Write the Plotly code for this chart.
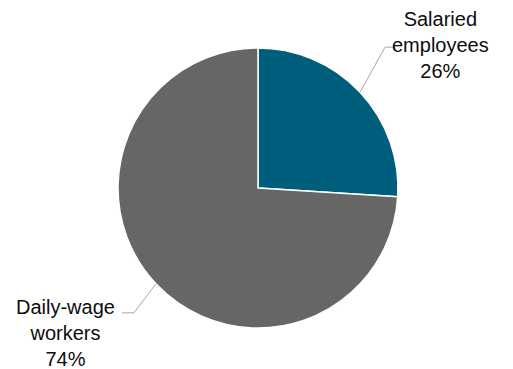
import math
import plotly.graph_objects as go

labels = ["Salaried employees", "Daily-wage workers"]
label_text = ["Salaried<br>employees", "Daily-wage<br>workers"]
values = [26, 74]
colors = ["#005E7D", "#666666"]

W, H = 513, 369
cx, cy, R = 258, 188, 140  # pixel geometry of pie

fig = go.Figure(go.Pie(
    labels=labels, values=values, sort=False, direction="clockwise", rotation=0,
    marker=dict(colors=colors, line=dict(color="white", width=1.5)),
    textinfo="none", hoverinfo="label+percent", showlegend=False,
    domain=dict(x=[(cx - R) / W, (cx + R) / W], y=[(H - cy - R) / H, (H - cy + R) / H]),
))

def px2paper(x, y):
    return x / W, 1 - y / H

# label layout (elbow offsets & text centres)
label_cfg = [
    dict(elbow=(25, -45), end=(10, 0), text=(440, 45)),
    dict(elbow=(-22, 29), end=(-12, 0), text=(65, 333)),
]

total = sum(values)
cum = 0
shapes, annots = [], []
for i, v in enumerate(values):
    mid = (cum + v / 2) / total * 2 * math.pi
    cum += v
    sx, sy = cx + R * math.sin(mid), cy - R * math.cos(mid)
    cfg = label_cfg[i]
    ex, ey = sx + cfg["elbow"][0], sy + cfg["elbow"][1]
    fx, fy = ex + cfg["end"][0], ey + cfg["end"][1]
    pts = [px2paper(sx, sy), px2paper(ex, ey), px2paper(fx, fy)]
    path = "M {} {} L {} {} L {} {}".format(*[c for p in pts for c in p])
    shapes.append(dict(type="path", xref="paper", yref="paper", path=path,
                       line=dict(color="#A6A6A6", width=1)))
    tx, ty = px2paper(*cfg["text"])
    annots.append(dict(x=tx, y=ty, xref="paper", yref="paper",
                       text=f"{label_text[i]}<br>{round(v / total * 100)}%",
                       showarrow=False, xanchor="center", yanchor="middle",
                       font=dict(size=20, color="#0d0d0d", family="Arial, Liberation Sans")))

fig.update_layout(
    width=W, height=H, margin=dict(l=0, r=0, t=0, b=0),
    paper_bgcolor="white", plot_bgcolor="white",
    shapes=shapes, annotations=annots,
    font=dict(family="Arial, Liberation Sans"),
)
fig.write_html("out.html")
